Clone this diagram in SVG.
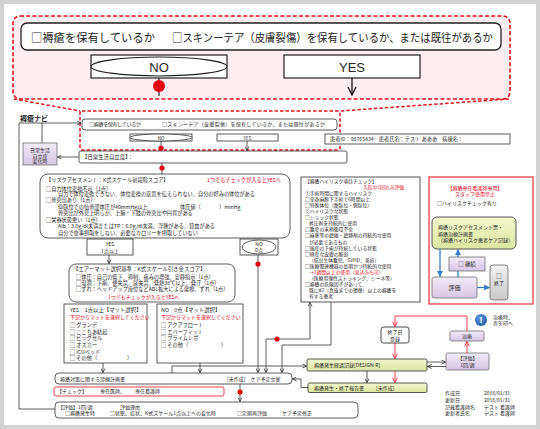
<svg xmlns="http://www.w3.org/2000/svg" width="540" height="429" viewBox="0 0 540 429">
<defs>
<style>
text{font-family:"Noto Sans CJK JP","Noto Sans",sans-serif;fill:#262626}
.f5{font-size:5.2px}
.f55{font-size:5.4px}
.fs{font-size:5px}
.fh{font-size:4.8px}
.rd{fill:#e60012}
.c{text-anchor:middle}
.b{fill:#fff;stroke:#333;stroke-width:0.8}
.ln{fill:none;stroke:#333;stroke-width:0.8}
.rl{fill:none;stroke:#ee3b4b;stroke-width:1}
.bl{fill:none;stroke:#3a7dc9;stroke-width:1.3}
.dot{fill:#e60012}
.lav{fill:url(#gLav);stroke:#6f6f6f;stroke-width:0.8}
.grn{fill:url(#gGrn);stroke:#444;stroke-width:0.9}
.rdash{fill:none;stroke:#e0141e;stroke-width:1.5;stroke-dasharray:3.5 2}
</style>
<linearGradient id="gLav" x1="0" y1="0" x2="0" y2="1"><stop offset="0" stop-color="#f1ebf7"/><stop offset="1" stop-color="#d6c7e6"/></linearGradient>
<linearGradient id="gGrn" x1="0" y1="0" x2="0" y2="1"><stop offset="0" stop-color="#f3f8cf"/><stop offset="1" stop-color="#dbe69f"/></linearGradient>
<linearGradient id="gGry" x1="0" y1="0" x2="0" y2="1"><stop offset="0" stop-color="#f2f2f2"/><stop offset="1" stop-color="#c9c9c9"/></linearGradient>
<radialGradient id="gBlue" cx="0.4" cy="0.35" r="0.7"><stop offset="0" stop-color="#5b9be0"/><stop offset="1" stop-color="#1f5aa6"/></radialGradient>
<marker id="ah" viewBox="0 0 10 10" refX="9" refY="5" markerWidth="5" markerHeight="5" orient="auto-start-reverse" markerUnits="userSpaceOnUse"><path d="M1,1 L9,5 L1,9" fill="none" stroke="#333" stroke-width="1.6"/></marker>
<marker id="ahL" viewBox="0 0 10 10" refX="9" refY="5" markerWidth="10" markerHeight="10" orient="auto-start-reverse" markerUnits="userSpaceOnUse"><path d="M1,1 L9,5 L1,9" fill="none" stroke="#222" stroke-width="1.4"/></marker>
<marker id="ahR" viewBox="0 0 10 10" refX="9" refY="5" markerWidth="6" markerHeight="6" orient="auto-start-reverse" markerUnits="userSpaceOnUse"><path d="M1,1 L9,5 L1,9" fill="none" stroke="#ee3b4b" stroke-width="1.6"/></marker>
<marker id="ahB" viewBox="0 0 10 10" refX="9" refY="5" markerWidth="6" markerHeight="6" orient="auto-start-reverse" markerUnits="userSpaceOnUse"><path d="M0,0 L10,5 L0,10 Z" fill="#3a7dc9"/></marker>
</defs>

<rect x="0" y="0" width="540" height="429" fill="#d2d2d2"/>
<rect x="4" y="4" width="532" height="421" fill="#fff"/>

<!-- Enlarged banner -->
<g id="banner">
<rect x="13" y="16" width="497" height="83" rx="7" fill="#fdeef1" stroke="#e0141e" stroke-width="1.6" stroke-dasharray="4 2.2"/>
<rect x="21" y="23" width="480" height="27" rx="6" fill="#fff" stroke="#222" stroke-width="1.3"/>
<text x="31" y="41.5" font-size="11.5" textLength="124" lengthAdjust="spacingAndGlyphs">□褥瘡を保有しているか</text>
<text x="172" y="41.5" font-size="11.5" textLength="321" lengthAdjust="spacingAndGlyphs">□スキンーテア（皮膚裂傷）を保有しているか、または既往があるか</text>
<g id="banner-no">
<rect x="91" y="55" width="136" height="23" fill="#fff" stroke="#222" stroke-width="1.2"/>
<ellipse cx="159" cy="66.5" rx="68" ry="9.5" fill="#fff" stroke="#222" stroke-width="1.2"/>
<text x="159" y="71.5" class="c" font-size="13" style="font-family:'Liberation Sans',sans-serif">NO</text>
</g>
<g id="banner-yes">
<rect x="284" y="55" width="136" height="23" fill="#fff" stroke="#222" stroke-width="1.2"/>
<text x="352" y="71.5" class="c" font-size="13" style="font-family:'Liberation Sans',sans-serif">YES</text>
</g>
</g>

<!-- Page nodes -->
<g id="title"><text x="20" y="120.5" font-size="7" font-weight="bold">褥瘡ナビ</text></g>

<g id="q-small">
<rect x="82" y="119" width="255" height="11" rx="3" class="b"/>
<text x="89" y="126" class="fs" textLength="52">□褥瘡を保有しているか</text>
<text x="162" y="126" class="fs" textLength="163">□スキンーテア（皮膚裂傷）を保有しているか、または既往があるか</text>
</g>
<g id="small-no">
<rect x="130" y="134" width="62" height="7" class="b"/>
<ellipse cx="161" cy="137.5" rx="31" ry="3.5" class="b"/>
<text x="161" y="139.5" class="c" font-size="4.6">NO</text>
</g>
<g id="small-yes">
<rect x="217" y="134" width="61" height="7" class="b"/>
<text x="247.5" y="139.5" class="c" font-size="4.6">YES</text>
</g>
<rect x="80" y="111" width="260" height="39" rx="2" class="rdash" stroke-width="1.2"/>

<g id="patient">
<rect x="325" y="134" width="185" height="10" class="b"/>
<text x="330" y="141" class="f5">患者ID：98765434　患者氏名：テスト あああ　病棟名：</text>
</g>

<g id="adl">
<rect x="79" y="151" width="268" height="12" rx="2" class="b"/>
<text x="82" y="159" class="f55">【日常生活自立度】：</text>
</g>

<g id="adl-change">
<rect x="23" y="143" width="34" height="22" class="lav"/>
<text x="40" y="151.8" class="c fs">日常生活</text>
<text x="40" y="157.5" class="c fs">自立度</text>
<text x="40" y="163" class="c fs">変化時</text>
</g>

<g id="risk">
<rect x="40" y="174" width="250" height="64" rx="8" class="b"/>
<text x="46" y="182" class="f5">【リスクアセスメント：K式スケール前段階スコア】</text>
<text x="207" y="182" class="f5 rd">1つでもチェックが入るとYESへ</text>
<text x="46" y="190.5" class="f5">□自力体位変換不可（1点）</text>
<text x="58" y="196.2" class="f5" textLength="197">自力で体位変換できない、体位変換の意思を伝えられない、自分の好みの体位がある</text>
<text x="46" y="202" class="f5">□骨突出あり（1点）</text>
<text x="58" y="208.5" class="f5">仰臥位での仙骨部体圧が40mmHg以上</text>
<text x="180" y="208.5" class="f5">体圧値（</text>
<text x="219" y="208.5" class="f5">）mmHg</text>
<text x="58" y="215" class="f5">骨突出が外見上明らか、上腕・下肢の骨突出や円背がある</text>
<text x="46" y="221.5" class="f5">□栄養状態悪い（1点）</text>
<text x="58" y="228" class="f5">Alb：3.0g/dl未満またはTP：6.0g/dl未満、浮腫がある、貧血がある</text>
<text x="58" y="234.5" class="f5">自分で食事摂取をしない、必要なカロリーを摂取していない</text>
</g>

<g id="risk-yes">
<rect x="87" y="239" width="46" height="16" class="b"/>
<text x="110" y="246" class="c fs">YES</text>
<text x="110" y="252.5" class="c fs">1点以上</text>
</g>
<g id="risk-no">
<rect x="240" y="239" width="38" height="16" class="b"/>
<ellipse cx="259" cy="247" rx="17" ry="7" class="b"/>
<text x="259" y="246" class="c fs">NO</text>
<text x="259" y="252" class="c fs">0点</text>
</g>

<g id="airmat">
<rect x="69" y="264" width="166" height="38" rx="7" class="b"/>
<text x="73" y="271" class="f55">【エアーマット選択基準：K式スケール引き金スコア】</text>
<text x="76" y="279" class="f5">□体圧：自己の低下、抑制、痛みの増強、安静指示（1点）</text>
<text x="76" y="285" class="f5">□湿潤：下痢、便失禁、尿失禁、発熱38℃以上、発汗（1点）</text>
<text x="76" y="291" class="f5">□ずれ：ヘッドアップ座位などADL拡大による摩擦、ずれ（1点）</text>
<text x="108" y="298.5" class="fs rd">1つでもチェックが入るとYESへ</text>
</g>

<g id="mat-yes">
<rect x="64" y="304" width="83" height="59" class="b"/>
<text x="70" y="312" class="f55">YES　1点以上【マット選択】</text>
<text x="70" y="319" class="fs rd">下記からマットを選択してください</text>
<text x="70" y="327" class="f5">□ グランデ</text>
<text x="70" y="333.7" class="f5">□ ここちあ結起</text>
<text x="70" y="340.4" class="f5">□ ビッグセル</text>
<text x="70" y="347" class="f5">□ オスカー</text>
<text x="70" y="353.7" class="f5">□ ICUベッド</text>
<text x="70" y="360.3" class="f5">□ その他（</text>
<text x="127" y="360.3" class="f5">）</text>
</g>

<g id="mat-no">
<rect x="157" y="304" width="86" height="59" class="b"/>
<text x="161" y="312" class="f55">NO　0点【マット選択】</text>
<text x="161" y="319" class="fs rd">下記からマットを選択してください</text>
<text x="161" y="327" class="f5">□ アクアフロート</text>
<text x="161" y="333.7" class="f5">□ エバーフィット</text>
<text x="161" y="340.4" class="f5">□ プライムレボ</text>
<text x="161" y="347" class="f5">□ その他（</text>
<text x="221" y="347" class="f5">）</text>
</g>

<g id="highrisk">
<rect x="301" y="177" width="119" height="125" fill="#fff" stroke="#555" stroke-width="1"/>
<text x="305" y="182.5" class="fh">【褥瘡ハイリスク項目チェック】</text>
<text x="363" y="188.6" class="fh rd">入院中1回のみ評価</text>
<text x="305" y="194.7" class="fh">①手術時間に関するハイリスク</text>
<text x="305" y="200.8" class="fh">□全身麻酔下手術で6時間以上</text>
<text x="305" y="206.9" class="fh">□特殊体位（腹臥位・側臥位）</text>
<text x="305" y="213" class="fh">②ハイリスクな状態</text>
<text x="305" y="219.1" class="fh">□ショック状態</text>
<text x="309" y="225.2" class="fh">昇圧剤を持続的に使用</text>
<text x="305" y="231.3" class="fh">□重度の末梢循環不全</text>
<text x="305" y="237.4" class="fh">□麻薬等の鎮痛・鎮静剤の持続的な使用</text>
<text x="309" y="243.5" class="fh">が必要であるもの</text>
<text x="305" y="249.6" class="fh">□強度の下痢が持続している状態</text>
<text x="305" y="255.7" class="fh">□極度な皮膚の脆弱</text>
<text x="309" y="261.8" class="fh">（低出生体重児、GVHD、黄疸）</text>
<text x="305" y="267.9" class="fh">□医療関連機器の長期かつ持続的な使用</text>
<text x="309" y="274" class="fh rd">→1週間以上の使用（見込みも可）</text>
<text x="309" y="280.1" class="fh">（医療用弾性ストッキング、シーネ等）</text>
<text x="305" y="286.2" class="fh">□褥瘡の危険因子があって、</text>
<text x="309" y="292.3" class="fh">既にd2（真皮までの損傷）以上の褥瘡を</text>
<text x="309" y="298.4" class="fh">有する患者</text>
</g>

<g id="specialist">
<rect x="429" y="177" width="104" height="127" fill="#fff" stroke="#e8303a" stroke-width="1.2"/>
<text x="475" y="189.5" class="c fs rd">【褥瘡専任看護師専用】</text>
<text x="475" y="195.8" class="c fs rd">スタッフ使用禁止</text>
<text x="437" y="205" class="fs">□ハイリスクチェック有り</text>
</g>
<g id="green-plan">
<rect x="432" y="217" width="84" height="32" rx="5" class="grn"/>
<text x="438" y="229.3" class="fs">褥瘡リスクアセスメント票・</text>
<text x="438" y="235.5" class="fs">褥瘡治療計画書</text>
<text x="438" y="242" class="fs">（褥瘡ハイリスク患者ケア記録）</text>
</g>

<g id="conn-blue">
<path d="M440,249 V276.5" class="bl" marker-end="url(#ahB)"/>
<path d="M458,277 V249.5" class="bl" marker-end="url(#ahB)"/>
<path d="M477,287.5 H489.5" class="bl" marker-end="url(#ahB)"/>
</g>
<g id="continue">
<rect x="449" y="257" width="36" height="14" class="lav"/>
<text x="467" y="266" class="c f55">□ 継続</text>
</g>
<g id="eval-s">
<rect x="432" y="277" width="45" height="21" rx="2" class="lav"/>
<text x="454.5" y="289.5" class="c" font-size="6">評価</text>
</g>
<g id="end-s">
<rect x="490" y="265" width="18" height="35" rx="3" fill="url(#gGry)" stroke="#666" stroke-width="0.8"/>
<text x="499" y="278" class="c f55">□</text>
<text x="499" y="285" class="c fs">終了</text>
</g>

<g id="plan">
<rect x="55" y="373" width="237" height="11" rx="4" class="b"/>
<text x="60" y="380.8" class="fs">褥瘡対策に関する診療計画書</text>
<text x="227" y="380.8" class="fs">[未作成]　ケア予定立案</text>
</g>
<g id="check">
<rect x="54" y="387" width="170" height="9" rx="2" fill="#fff" stroke="#e8303a" stroke-width="0.9"/>
<text x="57" y="393.3" class="fs">【チェック】</text>
<text x="100" y="393.3" class="fs">専任医師、</text>
<text x="135" y="393.3" class="fs">専任看護師</text>
</g>
<g id="eval">
<rect x="55" y="402" width="303" height="16" rx="4" class="b"/>
<text x="58" y="409" class="fs">【評価】1回/週</text>
<text x="120" y="409" class="fs">評価理由</text>
<text x="65" y="415" class="fs">□褥瘡発生時</text>
<text x="110" y="415" class="fs">□状態、症状、K式スケール1点以上への変化時</text>
<text x="237" y="415" class="fs">□定期再評価</text>
<text x="282" y="415" class="fs">ケア予定修正</text>
</g>

<g id="design-r">
<rect x="307" y="359" width="120" height="12" rx="1.5" class="grn"/>
<text x="314" y="366.8" class="fs">褥瘡発生経過記録[DESIGN-R]</text>
</g>
<g id="report">
<rect x="308" y="383" width="119" height="9.5" rx="1.5" class="grn"/>
<text x="314" y="389.8" class="fs">褥瘡発生・終了報告書</text>
<text x="376" y="389.8" class="fs">[未作成]</text>
</g>
<g id="end-date">
<rect x="381" y="327" width="28" height="16" rx="2.5" fill="#fff" stroke="#333" stroke-width="0.9"/>
<text x="395" y="334" class="c fs">終了日</text>
<text x="395" y="340.5" class="c fs">登録</text>
</g>
<g id="cure">
<rect x="450" y="331" width="34" height="10" rx="1.5" class="lav"/>
<text x="467" y="337.8" class="c fs">治癒</text>
</g>
<g id="eval-w">
<rect x="446" y="353" width="43" height="17" rx="1.5" class="lav"/>
<text x="467.5" y="360" class="c fs">【評価】</text>
<text x="467.5" y="367" class="c fs">1回/週</text>
</g>
<g id="note">
<circle cx="481" cy="320" r="6" fill="url(#gBlue)"/>
<text x="481" y="323.3" class="c" font-size="9" font-weight="bold" style="fill:#fff;font-family:'Liberation Sans',sans-serif">!</text>
<text x="493" y="318.8" class="fs">治癒時、</text>
<text x="493" y="325" class="fs">赤矢印へ</text>
</g>
<g id="meta">
<text x="445" y="395" class="fs">作成日</text><text x="484" y="395" class="fs">2018/01/31</text>
<text x="445" y="401.5" class="fs">更新日</text><text x="484" y="401.5" class="fs">2018/01/31</text>
<text x="445" y="408.5" class="fs">記載看護師名</text><text x="484" y="408.5" class="fs">テスト 看護師</text>
<text x="445" y="415" class="fs">更新者氏名</text><text x="484" y="415" class="fs">テスト 看護師</text>
</g>

<g id="connectors">
<path d="M159,78 V96" stroke="#222" stroke-width="1.2" fill="none"/>
<circle cx="159" cy="86" r="6" class="dot"/>
<path d="M352,78 V95" stroke="#222" stroke-width="1.4" fill="none" marker-end="url(#ahL)"/>
<path d="M14,99 L80,111 M509,99 L340,111" class="rdash"/>
<path d="M55,409 H19 V123 H81" class="ln" marker-end="url(#ah)"/>
<path d="M42,123 V143" class="ln"/>
<path d="M79,157 H57.5" class="ln" marker-end="url(#ah)"/>
<path d="M161,141 V151" class="ln"/>
<circle cx="161" cy="148" r="2.6" class="dot"/>
<path d="M247,141 V150.5" class="ln" marker-end="url(#ah)"/>
<path d="M162,163 V174" class="ln"/>
<circle cx="162" cy="168" r="2.6" class="dot"/>
<path d="M109,255 V263.5" class="ln" marker-end="url(#ah)"/>
<path d="M258,255 V372.5" class="ln" marker-end="url(#ah)"/>
<circle cx="258" cy="264" r="2.6" class="dot"/>
<path d="M103,363 V372.5" class="ln" marker-end="url(#ah)"/>
<path d="M200,363 V372.5" class="ln" marker-end="url(#ah)"/>
<path d="M172,373 V366 H306.5" class="ln" marker-end="url(#ah)"/>
<path d="M266,372.5 V339 H310 V302.5" class="ln" marker-start="url(#ah)" marker-end="url(#ah)"/>
<circle cx="277" cy="339" r="2.6" class="dot"/>
<path d="M331,302 V345 H282 V372.5" class="ln" marker-end="url(#ah)"/>
<path d="M308,387.5 H301 V379 H292.5" class="ln" marker-end="url(#ah)"/>
<path d="M240,384 V401.5" class="ln" marker-end="url(#ah)"/>
<circle cx="240" cy="392" r="2.6" class="dot"/>
<path d="M427,362 H445.5" class="ln" marker-end="url(#ah)"/>
<path d="M446,366.5 H427.5" class="ln" marker-end="url(#ah)"/>
<path d="M367,371 V382.5" class="ln" marker-end="url(#ah)"/>
<path d="M467,353 V341.5" class="rl" marker-end="url(#ahR)"/>
<path d="M467,331 V316 H395 V326.5" class="rl" marker-end="url(#ahR)"/>
<path d="M395,343 V358.5" class="rl" marker-end="url(#ahR)"/>
<path d="M395,371 V382.5" class="rl" marker-end="url(#ahR)"/>
</g>
</svg>
